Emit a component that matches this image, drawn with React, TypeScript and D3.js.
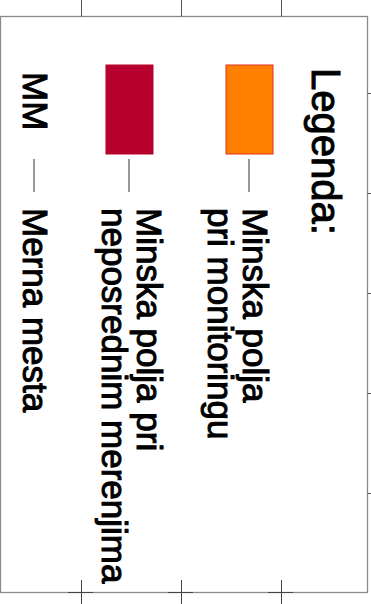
import React from "react";
import * as d3 from "d3";

// ---- data ----
const legendTitle = "Legenda:";
const itemLines: string[][] = [
  ["Minska polja", "pri monitoringu"],
  ["Minska polja pri", "neposrednim merenjima"],
];
const itemColors = ["#FF8000", "#B8002E"];
const itemStrokes = ["#E0301E", "#B8002E"];
const abbrevKey = "MM";
const abbrevLabel = "Merna mesta";
const gridXTicks = [1, 2, 3];
const gridYTicks = [1, 2, 3, 4, 5];

const W = 371;
const H = 604;

export default function App() {
  // frame
  const left = 0.5;
  const right = 367.5;
  const top = 16.5;
  const bottom = 592.5;
  const xGrid = d3.scaleLinear().domain([0, 1]).range([-19, 81]);
  const yGrid = d3.scaleLinear().domain([0, 1]).range([-7, 93]);

  // legend in rotated space: u = screen y, v = W - screen x
  const font = "'Liberation Sans', Arial, Helvetica, sans-serif";
  const rowV = d3.scaleOrdinal<number, number>().domain([0, 1]).range([98, 218]);
  const textV = [128, 234];
  const lineGap = 35;
  const sw = 1.0;

  return (
    <svg
      width={W}
      height={H}
      style={{ position: "absolute", left: 0, top: 0, background: "#fff" }}
    >
      <rect x={0} y={0} width={W} height={H} fill="#fff" />
      {/* frame */}
      <rect
        x={left}
        y={top}
        width={right - left}
        height={bottom - top}
        fill="none"
        stroke="#8a8a8a"
        strokeWidth={1.3}
      />
      {/* top ticks */}
      {gridXTicks.map((t) => (
        <line
          key={"tt" + t}
          x1={Math.round(xGrid(t)) + 0.5}
          x2={Math.round(xGrid(t)) + 0.5}
          y1={0}
          y2={top}
          stroke="#555"
          strokeWidth={1}
        />
      ))}
      {/* bottom crosses */}
      {gridXTicks.map((t) => (
        <g key={"bt" + t} stroke="#444" strokeWidth={1}>
          <line
            x1={Math.round(xGrid(t)) + 0.5}
            x2={Math.round(xGrid(t)) + 0.5}
            y1={580}
            y2={H}
          />
          <line x1={xGrid(t) - 13} x2={xGrid(t) + 12} y1={bottom} y2={bottom} />
        </g>
      ))}
      {/* right ticks */}
      {gridYTicks.map((t) => (
        <line
          key={"rt" + t}
          x1={right}
          x2={W}
          y1={Math.round(yGrid(t)) + 0.5}
          y2={Math.round(yGrid(t)) + 0.5}
          stroke="#555"
          strokeWidth={1}
        />
      ))}

      {/* legend, rotated */}
      <g
        transform={`translate(${W},0) rotate(90)`}
        fontFamily={font}
        fill="#000"
        stroke="#000"
        strokeWidth={sw}
      >
        <text x={68} y={59} fontSize={40}>
          {legendTitle}
        </text>
        {itemLines.map((lines, i) => (
          <g key={"item" + i}>
            <rect
              x={65}
              y={rowV(i)}
              width={89}
              height={47}
              fill={itemColors[i]}
              stroke={itemStrokes[i]}
              strokeWidth={1}
            />
            <line
              x1={159}
              x2={192}
              y1={rowV(i) + 24}
              y2={rowV(i) + 24}
              stroke="#333"
              strokeWidth={1}
            />
            {lines.map((ln, j) => (
              <text key={j} x={208} y={textV[i] + j * lineGap} fontSize={35}>
                {ln}
              </text>
            ))}
          </g>
        ))}
        <text x={72} y={348} fontSize={35}>
          {abbrevKey}
        </text>
        <line x1={159} x2={192} y1={337} y2={337} stroke="#333" strokeWidth={1} />
        <text x={208} y={348} fontSize={35}>
          {abbrevLabel}
        </text>
      </g>
    </svg>
  );
}
